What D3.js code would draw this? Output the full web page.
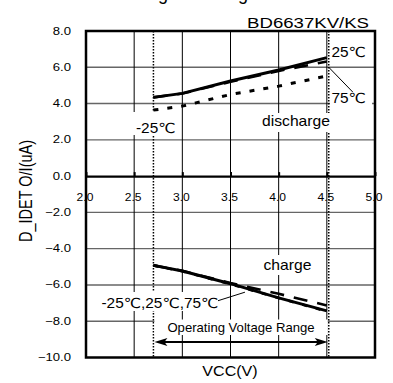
<!DOCTYPE html>
<html>
<head>
<meta charset="utf-8">
<script src="https://cdn.jsdelivr.net/npm/d3@7"></script>
<style>
  html, body { margin: 0; padding: 0; background: #fff; }
  svg { display: block; }
  text { font-family: "Liberation Sans", Arial, "DejaVu Sans", sans-serif; fill: #000; }
</style>
</head>
<body>
<svg id="chart" width="393" height="383"></svg>
<script>
// Supply voltage sample points (V)
const vcc = [2.7, 3.0, 3.5, 4.0, 4.5];

// Discharge current (uA) per temperature
const discharge25 = [4.34, 4.56, 5.24, 5.85, 6.53];
const discharge75 = [4.34, 4.55, 5.2, 5.8, 6.32];
const dischargeM25 = [3.64, 3.86, 4.5, 4.96, 5.52];

// Charge current (uA) per temperature
const charge25 = [-4.92, -5.23, -5.93, -6.71, -7.43];
const charge75 = [-4.92, -5.22, -5.9, -6.49, -7.13];
const chargeM25 = [-4.92, -5.25, -5.96, -6.72, -7.46];

// Axis ticks
const xTicks = [2.0, 2.5, 3.0, 3.5, 4.0, 4.5, 5.0];
const yTicks = [8, 6, 4, 2, 0, -2, -4, -6, -8, -10];

// Operating voltage range (V)
const opRange = [2.7, 4.52];

const svg = d3.select("#chart");
const x = d3.scaleLinear().domain([2, 5]).range([86, 375]);
const y = d3.scaleLinear().domain([-10, 8]).range([357.5, 31]);

// stretched text helper
function label(g, px, py, str, size, anchor, sx) {
  return g.append("text")
    .attr("transform", `translate(${px},${py}) scale(${sx},1)`)
    .attr("text-anchor", anchor)
    .style("font-size", size + "px")
    .text(str);
}

// page heading, sitting above the top edge
label(svg, 168, -0.3, "Sensing", 18, "end", 1.0);
label(svg, 183, -0.3, "– Voltage", 18, "start", 1.0);

label(svg, 369, 27.5, "BD6637KV/KS", 15.5, "end", 1.2);

const plot = svg.append("g");

// horizontal grid
plot.append("g").selectAll("line")
  .data(yTicks.filter(d => d !== 0 && d !== 8 && d !== -10))
  .join("line")
  .attr("x1", x(2)).attr("x2", x(5))
  .attr("y1", d => y(d)).attr("y2", d => y(d))
  .attr("stroke", "#666").attr("stroke-width", 1.4);

// vertical grid
plot.append("g").selectAll("line")
  .data(xTicks.filter(d => d > 2 && d < 5))
  .join("line")
  .attr("x1", d => x(d)).attr("x2", d => x(d))
  .attr("y1", y(8)).attr("y2", y(-10))
  .attr("stroke", "#000").attr("stroke-width", 1);

// zero line with ticks
const xAxis = d3.axisBottom(x).tickValues(xTicks).tickSizeInner(-4).tickSizeOuter(0)
  .tickFormat(d3.format(".1f"));
const xg = plot.append("g").attr("transform", `translate(0,${y(0)})`).call(xAxis);
xg.select(".domain").attr("stroke", "#000").attr("stroke-width", 2.3);
xg.selectAll(".tick line").attr("stroke", "#000").attr("stroke-width", 2);
xg.selectAll(".tick text")
  .attr("y", null).attr("dy", null)
  .attr("transform", "translate(-1.5,24.5) scale(1.15,1)")
  .style("font-size", "10.5px")
  .style("font-family", "'Liberation Sans', Arial, sans-serif")
  .attr("fill", "#000");

// y axis labels
const yAxis = d3.axisLeft(y).tickValues(yTicks).tickSize(0).tickFormat(d3.format(".1f"));
const yg = svg.append("g").attr("transform", `translate(${x(2)},0)`).call(yAxis);
yg.select(".domain").remove();
yg.selectAll(".tick text")
  .attr("x", null).attr("dy", null)
  .attr("transform", "translate(-15,3) scale(1.25,1)")
  .style("font-size", "10.5px")
  .style("font-family", "'Liberation Sans', Arial, sans-serif")
  .attr("fill", "#000");

// operating range boundaries
plot.append("g").selectAll("line")
  .data(opRange)
  .join("line")
  .attr("x1", d => x(d)).attr("x2", d => x(d))
  .attr("y1", y(8)).attr("y2", y(-10))
  .attr("stroke", "#000").attr("stroke-width", 1.5)
  .attr("stroke-dasharray", "1.5,1.5");

// curves
const line = d3.line().x((d, i) => x(vcc[i])).y(d => y(d));
const series = [
  { v: dischargeM25, w: 3, dash: "5,9" },
  { v: discharge75, w: 2.6, dash: "14,10" },
  { v: discharge25, w: 3, dash: null },
  { v: chargeM25, w: 2.6, dash: "5,9" },
  { v: charge75, w: 2.6, dash: "14,10" },
  { v: charge25, w: 3, dash: null }
];
plot.append("g").selectAll("path")
  .data(series)
  .join("path")
  .attr("d", d => line(d.v))
  .attr("fill", "none")
  .attr("stroke", "#000")
  .attr("stroke-width", d => d.w)
  .attr("stroke-dasharray", d => d.dash);

// annotation boxes that mask the grid
const boxes = [
  [131, 112, 45, 23],
  [258, 113, 77, 19],
  [330, 88, 42, 17],
  [260, 255, 56, 20],
  [99, 292, 121, 19],
  [x(opRange[0]) + 1, 319.5, x(opRange[1]) - x(opRange[0]) - 2, 15.5]
];
plot.append("g").selectAll("rect")
  .data(boxes)
  .join("rect")
  .attr("x", d => d[0]).attr("y", d => d[1])
  .attr("width", d => d[2]).attr("height", d => d[3])
  .attr("fill", "#fff");

// leader lines
plot.append("line")
  .attr("x1", x(4.52)).attr("y1", y(6.0)).attr("x2", x(4.77)).attr("y2", y(4.63))
  .attr("stroke", "#000").attr("stroke-width", 1);
plot.append("line")
  .attr("x1", x(3.37)).attr("y1", y(-6.87)).attr("x2", x(3.65)).attr("y2", y(-6.4))
  .attr("stroke", "#000").attr("stroke-width", 1);

// double arrow for operating range
const ay = y(-9.15);
const ax0 = x(opRange[0]) + 1, ax1 = x(opRange[1]) - 1;
plot.append("line")
  .attr("x1", ax0 + 8).attr("x2", ax1 - 8).attr("y1", ay).attr("y2", ay)
  .attr("stroke", "#000").attr("stroke-width", 2);
plot.append("path")
  .attr("d", `M${ax0},${ay} L${ax0 + 13},${ay - 4} L${ax0 + 10},${ay} L${ax0 + 13},${ay + 4} Z`)
  .attr("fill", "#000");
plot.append("path")
  .attr("d", `M${ax1},${ay} L${ax1 - 13},${ay - 4} L${ax1 - 10},${ay} L${ax1 - 13},${ay + 4} Z`)
  .attr("fill", "#000");

// annotation text
label(plot, 331.5, 56.5, "25℃", 14, "start", 1.1);
label(plot, 331.5, 103, "75℃", 14, "start", 1.1);
label(plot, 136, 133, "-25℃", 14, "start", 1.1);
label(plot, 296, 126, "discharge", 14, "middle", 1.12);
label(plot, 287.5, 270, "charge", 14, "middle", 1.12);
label(plot, 101.5, 308.3, "-25℃,25℃,75℃", 14, "start", 1.1);
label(plot, 241, 331.7, "Operating Voltage Range", 12.5, "middle", 1.05);

// plot frame
svg.append("rect")
  .attr("x", x(2)).attr("y", y(8))
  .attr("width", x(5) - x(2)).attr("height", y(-10) - y(8))
  .attr("fill", "none").attr("stroke", "#000").attr("stroke-width", 2.5);

// axis titles
label(svg, 230, 376, "VCC(V)", 14, "middle", 1.15);
svg.append("text")
  .attr("transform", "translate(31.5,191) rotate(-90) scale(1,1.25)")
  .attr("text-anchor", "middle")
  .style("font-size", "14.5px")
  .text("D_IDET O/I(uA)");
</script>
</body>
</html>
